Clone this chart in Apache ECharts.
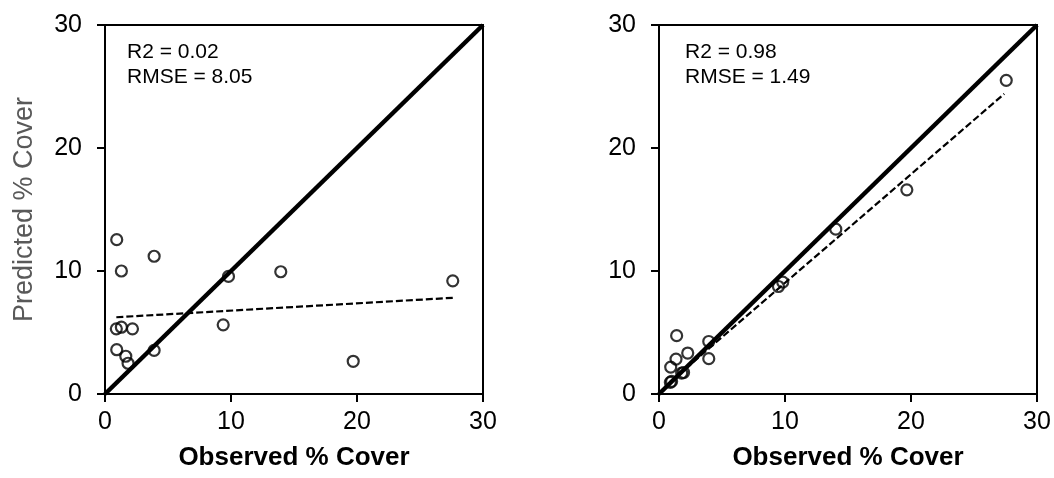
<!DOCTYPE html>
<html>
<head>
<meta charset="utf-8">
<script src="https://cdn.jsdelivr.net/npm/echarts@6/dist/echarts.min.js"></script>
<style>
html,body{margin:0;padding:0;background:#fff;}
#chart{width:1054px;height:478px;}
</style>
</head>
<body>
<div id="chart"></div>
<script>
// ---- data ----
var axisTicks = [0, 10, 20, 30];
var leftObserved  = [0.93, 3.9, 1.3, 9.8, 13.95, 27.6, 0.9, 1.3, 2.18, 9.38, 0.93, 1.65, 1.83, 3.9, 19.7];
var leftPredicted = [12.55, 11.2, 10.0, 9.56, 9.94, 9.2, 5.3, 5.43, 5.3, 5.62, 3.6, 3.07, 2.5, 3.55, 2.66];
var rightObserved  = [19.67, 14.03, 9.48, 9.82, 1.4, 3.95, 3.95, 2.28, 1.35, 0.93, 1.8, 1.95, 1.0, 0.9, 27.56];
var rightPredicted = [16.6, 13.4, 8.74, 9.1, 4.74, 4.27, 2.87, 3.33, 2.84, 2.19, 1.7, 1.75, 1.02, 0.95, 25.5];
var oneToOneX = [0, 30];
var oneToOneY = [0, 30];
var leftTrendX = [0.9, 27.6];
var leftTrendY = [6.24, 7.82];
var rightTrendX = [0.9, 27.4];
var rightTrendY = [1.0, 24.4];
var leftStats = ['R2 = 0.02', 'RMSE = 8.05'];
var rightStats = ['R2 = 0.98', 'RMSE = 1.49'];
var xAxisTitle = 'Observed % Cover';
var yAxisTitle = 'Predicted % Cover';

function pairs(xs, ys){ return xs.map(function(x,i){ return [x, ys[i]]; }); }

var FONT = '"Liberation Sans", Arial, sans-serif';

function xAxisCfg(idx){
  return {
    gridIndex: idx, type: 'value', min: axisTicks[0], max: axisTicks[axisTicks.length-1], interval: 10,
    name: xAxisTitle, nameLocation: 'middle', nameGap: 51,
    nameTextStyle: {fontFamily: FONT, fontSize: 26, fontWeight: 'bold', color: '#000'},
    axisLine: {onZero: false, lineStyle: {color: '#000', width: 2}},
    axisTick: {show: true, inside: false, length: 8, lineStyle: {color: '#000', width: 2}},
    axisLabel: {fontFamily: FONT, fontSize: 25, color: '#000', margin: 16},
    splitLine: {show: false}
  };
}
function yAxisCfg(idx, withName){
  return {
    gridIndex: idx, type: 'value', min: axisTicks[0], max: axisTicks[axisTicks.length-1], interval: 10,
    name: withName ? yAxisTitle : '', nameLocation: 'middle', nameGap: 67,
    nameTextStyle: {fontFamily: FONT, fontSize: 27, color: '#595959'},
    axisLine: {onZero: false, lineStyle: {color: '#000', width: 2}},
    axisTick: {show: true, inside: false, length: 8, lineStyle: {color: '#000', width: 2}},
    axisLabel: {fontFamily: FONT, fontSize: 25, color: '#000', margin: 23},
    splitLine: {show: false}
  };
}
function scatterS(idx, xs, ys){
  return {
    type: 'scatter', xAxisIndex: idx, yAxisIndex: idx, data: pairs(xs, ys),
    symbol: 'circle', symbolSize: 11,
    itemStyle: {color: 'rgba(255,255,255,0)', borderColor: '#000', borderWidth: 2.2},
    z: 3
  };
}
function lineS(idx, xs, ys, w, dashed, z){
  return {
    type: 'line', xAxisIndex: idx, yAxisIndex: idx, data: pairs(xs, ys),
    showSymbol: false, symbol: 'none', silent: true,
    lineStyle: {color: '#000', width: w, type: dashed ? [7, 3] : 'solid'},
    z: z
  };
}

var chart = echarts.init(document.getElementById('chart'), null, {renderer: 'canvas'});
chart.setOption({
  animation: false,
  backgroundColor: '#fff',
  grid: [
    {left: 105, top: 25, width: 378, height: 369, show: true, borderColor: '#000', borderWidth: 2, backgroundColor: 'transparent'},
    {left: 659, top: 25, width: 378, height: 369, show: true, borderColor: '#000', borderWidth: 2, backgroundColor: 'transparent'}
  ],
  xAxis: [xAxisCfg(0), xAxisCfg(1)],
  yAxis: [yAxisCfg(0, true), yAxisCfg(1, false)],
  series: [
    lineS(0, oneToOneX, oneToOneY, 4.5, false, 4),
    lineS(0, leftTrendX, leftTrendY, 2.2, true, 2),
    scatterS(0, leftObserved, leftPredicted),
    lineS(1, oneToOneX, oneToOneY, 4.5, false, 4),
    lineS(1, rightTrendX, rightTrendY, 2.2, true, 2),
    scatterS(1, rightObserved, rightPredicted)
  ],
  graphic: [
    {type: 'text', left: 127, top: 40, style: {text: leftStats.join('\n'), font: '21px ' + FONT, fill: '#000', lineHeight: 25}},
    {type: 'text', left: 685, top: 40, style: {text: rightStats.join('\n'), font: '21px ' + FONT, fill: '#000', lineHeight: 25}}
  ]
});
</script>
</body>
</html>
